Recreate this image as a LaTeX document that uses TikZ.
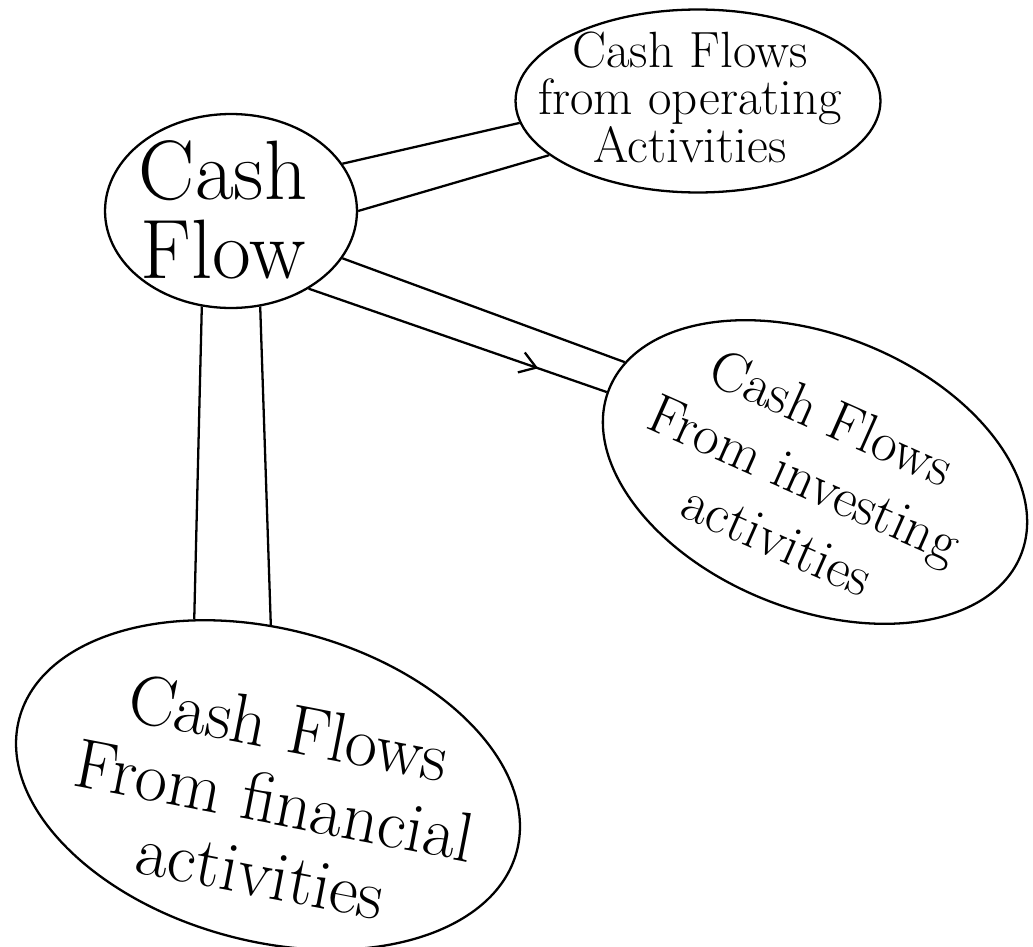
\documentclass[tikz,border=0pt]{standalone}
\usetikzlibrary{shapes.geometric,arrows.meta,decorations.markings}
\begin{document}
\begin{tikzpicture}[x=0.02cm,y=-0.02cm]
\tikzset{bubble/.style={draw, ellipse, line width=1.3pt, inner sep=0pt},
  hand/.style={align=center, inner sep=0pt},
  band/.style={line width=1.3pt},
  midarrow/.style={postaction={decorate}, decoration={markings,
    mark=at position 0.77 with {\arrow{Straight Barb[length=9pt,width=12pt,line width=1.3pt]}}}}}
\useasboundingbox (0,0) rectangle (1033,946);
\clip (0,0) rectangle (1033,946);
\node[bubble, minimum width=5.04cm, minimum height=3.88cm] (cash) at (231,211) {};
\node[bubble, minimum width=7.3cm, minimum height=3.66cm] (oper) at (698,101) {};
\node[bubble, rotate=-22, minimum width=8.88cm, minimum height=5.48cm] (inv) at (815,472) {};
\node[bubble, rotate=-15, minimum width=10.3cm, minimum height=6.24cm] (fin) at (268,785) {};
\node[hand, font=\fontsize{48}{45}\selectfont] (cashtxt) at (223,210) {Cash\\Flow};
\node[hand, font=\fontsize{29}{27}\selectfont] (opertxt) at (690,97) {Cash Flows\\from operating\\Activities};
\node[hand, rotate=-24, font=\fontsize{32}{38}\selectfont] (invtxt) at (805,478) {Cash Flows\\From investing\\activities};
\node[hand, rotate=-11, font=\fontsize{40}{42}\selectfont] (fintxt) at (275,800) {Cash Flows\\From financial\\activities};
\draw[band] (cash.23) -- (oper.187);
\draw[band] (cash.0) -- (oper.200);
\draw[band] (cash.-23) -- (inv.172);
\draw[band, midarrow] (cash.-45) -- (inv.181);
\draw[band] (cash.253) -- (fin.129);
\draw[band] (cash.287) -- (fin.104);
\end{tikzpicture}
\end{document}
